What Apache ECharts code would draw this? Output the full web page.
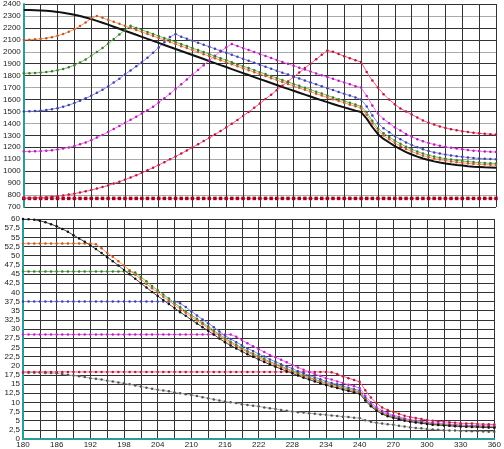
<!DOCTYPE html>
<html>
<head>
<meta charset="utf-8">
<script src="https://cdn.jsdelivr.net/npm/echarts@6/dist/echarts.min.js"></script>
<style>
  html, body { margin: 0; padding: 0; background: #fff; }
  #chart { width: 504px; height: 449px; }
</style>
</head>
<body>
<div id="chart"></div>
<script>
// x categories: 1 deg steps up to 240, then 5 deg steps
var cats = [
  180, 181, 182, 183, 184, 185, 186, 187, 188, 189,
  190, 191, 192, 193, 194, 195, 196, 197, 198, 199,
  200, 201, 202, 203, 204, 205, 206, 207, 208, 209,
  210, 211, 212, 213, 214, 215, 216, 217, 218, 219,
  220, 221, 222, 223, 224, 225, 226, 227, 228, 229,
  230, 231, 232, 233, 234, 235, 236, 237, 238, 239,
  240,
  245, 250, 255, 260, 265, 270, 275, 280, 285, 290, 295, 300,
  305, 310, 315, 320, 325, 330, 335, 340, 345, 350, 355, 360
];

// upper panel
var topBlack = [
  2350, 2350, 2348, 2346, 2343, 2339, 2334, 2327, 2319, 2310,
  2299, 2287, 2274, 2259, 2243, 2227, 2210, 2193, 2176, 2159,
  2142, 2125, 2108, 2091, 2074, 2057, 2040, 2023, 2006, 1990,
  1973, 1956, 1939, 1922, 1905, 1888, 1872, 1855, 1838, 1821,
  1805, 1788, 1771, 1755, 1738, 1722, 1705, 1689, 1673, 1657,
  1641, 1625, 1609, 1593, 1578, 1563, 1548, 1534, 1520, 1507,
  1495,
  1440, 1370, 1310, 1270, 1240, 1210, 1185, 1160, 1140, 1122, 1106, 1093,
  1082, 1073, 1065, 1058, 1052, 1047, 1042, 1038, 1035, 1032, 1030, 1028
];
var topOrange = [
  2100, 2101, 2104, 2108, 2114, 2122, 2134, 2149, 2167, 2189,
  2215, 2245, 2280, 2300, 2284, 2268, 2251, 2234, 2217, 2200,
  2183, 2166, 2149, 2132, 2115, 2098, 2081, 2064, 2047, 2031,
  2014, 1997, 1980, 1963, 1946, 1929, 1913, 1896, 1879, 1862,
  1846, 1829, 1812, 1796, 1779, 1763, 1746, 1730, 1714, 1698,
  1681, 1665, 1649, 1633, 1617, 1602, 1587, 1572, 1557, 1543,
  1528,
  1472, 1400, 1339, 1298, 1267, 1237, 1211, 1186, 1165, 1147, 1130, 1117,
  1106, 1097, 1089, 1082, 1075, 1070, 1065, 1061, 1058, 1055, 1053, 1051
];
var topGreen = [
  1820, 1821, 1823, 1826, 1830, 1836, 1845, 1856, 1870, 1888,
  1910, 1936, 1966, 1998, 2032, 2068, 2106, 2145, 2183, 2217,
  2200, 2183, 2166, 2149, 2132, 2115, 2098, 2081, 2064, 2048,
  2031, 2014, 1997, 1980, 1963, 1946, 1930, 1913, 1896, 1879,
  1863, 1846, 1829, 1813, 1796, 1780, 1763, 1747, 1731, 1715,
  1698, 1682, 1666, 1650, 1634, 1618, 1603, 1588, 1573, 1558,
  1543,
  1495, 1422, 1360, 1318, 1287, 1256, 1230, 1204, 1183, 1164, 1148, 1134,
  1122, 1113, 1104, 1097, 1091, 1085, 1080, 1076, 1072, 1069, 1067, 1065
];
var topBlue = [
  1500, 1501, 1503, 1507, 1512, 1519, 1528, 1540, 1554, 1570,
  1590, 1610, 1632, 1656, 1682, 1710, 1742, 1775, 1810, 1844,
  1878, 1912, 1950, 1992, 2036, 2080, 2124, 2148, 2126, 2110,
  2093, 2076, 2059, 2042, 2025, 2008, 1992, 1975, 1958, 1941,
  1925, 1908, 1891, 1875, 1858, 1842, 1825, 1809, 1792, 1776,
  1759, 1743, 1727, 1711, 1695, 1679, 1663, 1648, 1633, 1618,
  1600,
  1542, 1467, 1402, 1359, 1327, 1295, 1268, 1241, 1220, 1200, 1183, 1169,
  1157, 1148, 1139, 1132, 1125, 1120, 1115, 1110, 1107, 1104, 1102, 1100
];
var topMagenta = [
  1165, 1165, 1166, 1168, 1171, 1175, 1181, 1189, 1199, 1211,
  1225, 1241, 1260, 1281, 1304, 1329, 1354, 1379, 1404, 1430,
  1456, 1482, 1510, 1540, 1575, 1610, 1648, 1688, 1728, 1768,
  1808, 1848, 1888, 1928, 1966, 2002, 2036, 2066, 2048, 2031,
  2015, 1998, 1981, 1965, 1948, 1932, 1915, 1899, 1883, 1867,
  1851, 1835, 1819, 1803, 1788, 1773, 1758, 1743, 1729, 1712,
  1700,
  1630, 1550, 1482, 1436, 1402, 1368, 1340, 1311, 1289, 1268, 1250, 1236,
  1223, 1213, 1204, 1196, 1189, 1183, 1177, 1172, 1168, 1165, 1162, 1160
];
var topRed = [
  775, 776, 777, 779, 782, 786, 791, 797, 804, 812,
  821, 831, 842, 854, 867, 881, 896, 912, 929, 947,
  966, 986, 1007, 1029, 1052, 1075, 1099, 1123, 1148, 1173,
  1199, 1225, 1252, 1279, 1307, 1336, 1366, 1397, 1429, 1462,
  1496, 1531, 1567, 1604, 1641, 1678, 1715, 1752, 1789, 1826,
  1863, 1900, 1937, 1974, 2010, 2000, 1981, 1963, 1946, 1929,
  1914,
  1830, 1760, 1700, 1645, 1600, 1560, 1525, 1500, 1475, 1450, 1425, 1405,
  1390, 1375, 1362, 1352, 1343, 1335, 1328, 1322, 1317, 1313, 1310, 1308
];
var topFlat = [
  772, 772, 772, 772, 772, 772, 772, 772, 772, 772,
  772, 772, 772, 772, 772, 772, 772, 772, 772, 772,
  772, 772, 772, 772, 772, 772, 772, 772, 772, 772,
  772, 772, 772, 772, 772, 772, 772, 772, 772, 772,
  772, 772, 772, 772, 772, 772, 772, 772, 772, 772,
  772, 772, 772, 772, 772, 772, 772, 772, 772, 772,
  772,
  772, 772, 772, 772, 772, 772, 772, 772, 772, 772, 772, 772,
  772, 772, 772, 772, 772, 772, 772, 772, 772, 772, 772, 772
];

// lower panel
var botBlack = [
  60.0, 59.95, 59.8, 59.5, 59.1, 58.6, 58.0, 57.3, 56.5, 55.6,
  54.7, 53.8, 52.8, 51.8, 50.7, 49.6, 48.5, 47.3, 46.1, 44.9,
  43.7, 42.5, 41.3, 40.1, 39.0, 37.9, 36.8, 35.7, 34.6, 33.6,
  32.5, 31.5, 30.5, 29.5, 28.5, 27.4, 26.4, 25.5, 24.7, 23.9,
  23.1, 22.4, 21.7, 21.0, 20.3, 19.7, 19.1, 18.5, 17.9, 17.3,
  16.7, 16.2, 15.7, 15.2, 14.7, 14.3, 13.9, 13.5, 13.1, 12.7,
  12.3,
  10.5, 8.9, 7.7, 6.8, 6.2, 5.8, 5.4, 5.0, 4.7, 4.5, 4.3, 4.1,
  3.9, 3.8, 3.7, 3.6, 3.5, 3.4, 3.35, 3.3, 3.25, 3.2, 3.15, 3.1
];
var botOrange = [
  53.3, 53.3, 53.3, 53.3, 53.3, 53.3, 53.3, 53.3, 53.3, 53.3,
  53.3, 53.3, 53.3, 53.1, 52.0, 50.8, 49.7, 48.5, 47.3, 46.0,
  44.8, 43.6, 42.3, 41.1, 40.0, 38.8, 37.7, 36.6, 35.5, 34.4,
  33.3, 32.3, 31.3, 30.2, 29.2, 28.1, 27.1, 26.1, 25.3, 24.5,
  23.7, 23.0, 22.2, 21.5, 20.8, 20.2, 19.6, 19.0, 18.3, 17.7,
  17.1, 16.6, 16.1, 15.6, 15.1, 14.7, 14.2, 13.8, 13.4, 13.0,
  12.6,
  10.8, 9.1, 7.9, 7.0, 6.4, 5.9, 5.5, 5.1, 4.8, 4.6, 4.4, 4.2,
  4.0, 3.9, 3.8, 3.7, 3.6, 3.5, 3.43, 3.38, 3.33, 3.28, 3.23, 3.18
];
var botGreen = [
  45.7, 45.7, 45.7, 45.7, 45.7, 45.7, 45.7, 45.7, 45.7, 45.7,
  45.7, 45.7, 45.7, 45.7, 45.7, 45.7, 45.7, 45.7, 45.7, 45.7,
  45.4, 44.2, 43.0, 41.7, 40.6, 39.4, 38.3, 37.1, 36.0, 34.9,
  33.8, 32.8, 31.7, 30.7, 29.6, 28.5, 27.5, 26.5, 25.7, 24.9,
  24.0, 23.3, 22.6, 21.8, 21.1, 20.5, 19.9, 19.2, 18.6, 18.0,
  17.4, 16.8, 16.3, 15.8, 15.3, 14.9, 14.5, 14.0, 13.6, 13.2,
  12.8,
  10.9, 9.2, 8.0, 7.1, 6.4, 6.0, 5.6, 5.2, 4.9, 4.7, 4.5, 4.25,
  4.05, 3.95, 3.85, 3.75, 3.6, 3.5, 3.45, 3.4, 3.35, 3.3, 3.25, 3.2
];
var botBlue = [
  37.5, 37.5, 37.5, 37.5, 37.5, 37.5, 37.5, 37.5, 37.5, 37.5,
  37.5, 37.5, 37.5, 37.5, 37.5, 37.5, 37.5, 37.5, 37.5, 37.5,
  37.5, 37.5, 37.5, 37.5, 37.5, 37.5, 37.5, 37.5, 37.0, 36.0,
  34.8, 33.7, 32.6, 31.6, 30.5, 29.3, 28.2, 27.3, 26.4, 25.6,
  24.7, 24.0, 23.2, 22.5, 21.7, 21.1, 20.4, 19.8, 19.2, 18.5,
  17.9, 17.3, 16.8, 16.3, 15.7, 15.3, 14.9, 14.4, 14.0, 13.6,
  13.2,
  11.2, 9.5, 8.2, 7.3, 6.6, 6.2, 5.8, 5.35, 5.0, 4.8, 4.6, 4.4,
  4.15, 4.05, 3.95, 3.85, 3.75, 3.65, 3.6, 3.55, 3.5, 3.45, 3.4, 3.35
];
var botMagenta = [
  28.5, 28.5, 28.5, 28.5, 28.5, 28.5, 28.5, 28.5, 28.5, 28.5,
  28.5, 28.5, 28.5, 28.5, 28.5, 28.5, 28.5, 28.5, 28.5, 28.5,
  28.5, 28.5, 28.5, 28.5, 28.5, 28.5, 28.5, 28.5, 28.5, 28.5,
  28.5, 28.5, 28.5, 28.5, 28.5, 28.5, 28.5, 28.5, 27.9, 27.0,
  26.1, 25.3, 24.5, 23.7, 22.9, 22.3, 21.6, 20.9, 20.2, 19.5,
  18.9, 18.3, 17.7, 17.2, 16.6, 16.2, 15.7, 15.3, 14.8, 14.4,
  13.9,
  11.8, 10.0, 8.7, 7.7, 7.0, 6.5, 6.1, 5.6, 5.3, 5.05, 4.85, 4.6,
  4.4, 4.3, 4.15, 4.05, 3.95, 3.85, 3.75, 3.7, 3.65, 3.6, 3.55, 3.5
];
var botRed = [
  18.3, 18.3, 18.3, 18.3, 18.3, 18.3, 18.3, 18.3, 18.3, 18.3,
  18.3, 18.3, 18.3, 18.3, 18.3, 18.3, 18.3, 18.3, 18.3, 18.3,
  18.3, 18.3, 18.3, 18.3, 18.3, 18.3, 18.3, 18.3, 18.3, 18.3,
  18.3, 18.3, 18.3, 18.3, 18.3, 18.3, 18.3, 18.3, 18.3, 18.3,
  18.3, 18.3, 18.3, 18.3, 18.3, 18.3, 18.3, 18.3, 18.3, 18.3,
  18.3, 18.3, 18.3, 18.3, 18.3, 18.2, 17.7, 17.1, 16.6, 16.1,
  15.6,
  13.3, 11.3, 9.8, 8.6, 7.9, 7.4, 6.9, 6.35, 6.0, 5.7, 5.45, 5.2,
  4.95, 4.8, 4.7, 4.55, 4.45, 4.3, 4.25, 4.2, 4.1, 4.05, 4.0, 3.95
];
var botGray = [
  18.1, 18.1, 18.1, 18.1, 18.0, 18.0, 17.9, 17.7, 17.5, 17.3,
  17.1, 16.9, 16.6, 16.4, 16.2, 15.9, 15.7, 15.4, 15.2, 14.9,
  14.6, 14.3, 14.0, 13.7, 13.4, 13.2, 13.0, 12.7, 12.5, 12.2,
  12.0, 11.7, 11.4, 11.1, 10.8, 10.5, 10.2, 10.0, 9.8, 9.5,
  9.3, 9.1, 8.9, 8.6, 8.4, 8.2, 7.9, 7.7, 7.5, 7.3,
  7.2, 7.0, 6.9, 6.7, 6.6, 6.4, 6.3, 6.1, 6.0, 5.8,
  5.7,
  5.1, 4.7, 4.4, 4.2, 4.0, 3.9, 3.6, 3.4, 3.2, 3.0, 2.9, 2.7,
  2.6, 2.5, 2.4, 2.35, 2.3, 2.2, 2.15, 2.1, 2.1, 2.05, 2.0, 2.0
];

var chart = echarts.init(document.getElementById("chart"));

// one marked line (dotted look: light line + darker points)
function mk(data, panel, lineColor, dotColor, dotSize, shape) {
  return {
    type: "line",
    xAxisIndex: panel,
    yAxisIndex: panel,
    data: data,
    showAllSymbol: true,
    symbol: shape || "circle",
    symbolSize: dotSize,
    lineStyle: { color: lineColor, width: 1 },
    itemStyle: { color: dotColor, borderWidth: 0 },
  };
}

var axisTeal = "#2a9c9c";
var gridDark = "#333";

function xAxisOf(panel, showLabels) {
  return {
    type: "category",
    gridIndex: panel,
    data: cats,
    boundaryGap: false,
    axisTick: { show: false },
    axisLine: { show: showLabels, lineStyle: { color: axisTeal, width: 2 } },
    axisLabel: {
      show: showLabels,
      interval: 5,
      fontSize: 8,
      color: "#222",
      margin: 2,
    },
    splitLine: {
      show: true,
      interval: 2,
      lineStyle: { color: gridDark, width: 1 },
    },
  };
}

var option = {
  animation: false,
  backgroundColor: "#fff",
  textStyle: { fontFamily: "Liberation Sans, Arial, sans-serif" },
  grid: [
    { left: 23, right: 8, top: 1, height: 206 },
    { left: 23, right: 8, top: 219, height: 220 },
  ],
  xAxis: [xAxisOf(0, false), xAxisOf(1, true)],
  yAxis: [
    {
      type: "value",
      gridIndex: 0,
      min: 700,
      max: 2400,
      interval: 100,
      axisLine: { show: true, lineStyle: { color: axisTeal, width: 2 } },
      axisTick: { show: false },
      axisLabel: {
        fontSize: 8,
        color: "#222",
        margin: 3,
        formatter: function (v) {
          return String(v);
        },
      },
      splitLine: {
        lineStyle: { color: [gridDark, "#aaa", gridDark], width: 1 },
      },
    },
    {
      type: "value",
      gridIndex: 1,
      min: 0,
      max: 60,
      interval: 2.5,
      axisLine: { show: true, lineStyle: { color: axisTeal, width: 2 } },
      axisTick: { show: false },
      axisLabel: {
        fontSize: 8,
        color: "#222",
        margin: 3,
        formatter: function (v) {
          return String(v).replace(".", ",");
        },
      },
      splitLine: { lineStyle: { color: gridDark, width: 1 } },
    },
  ],
  series: [
    mk(topFlat, 0, "#e8a0a8", "#a00020", 3.5, "rect"),
    mk(topRed, 0, "#f06080", "#b81840", 2.5),
    mk(topMagenta, 0, "#f070f0", "#b020b0", 2.5),
    mk(topBlue, 0, "#8888e8", "#4040a0", 2.5),
    mk(topGreen, 0, "#78b868", "#3c7a30", 2.5),
    mk(topOrange, 0, "#f09a60", "#c0582a", 2.5),
    {
      type: "line",
      xAxisIndex: 0,
      yAxisIndex: 0,
      data: topBlack,
      symbol: "none",
      lineStyle: { color: "#111", width: 2 },
    },

    mk(botGray, 1, "#b0b0b0", "#555", 2.5),
    mk(botRed, 1, "#f06080", "#c01840", 2.5),
    mk(botMagenta, 1, "#f070f0", "#c020c0", 2.5),
    mk(botBlue, 1, "#8888e8", "#4040a8", 2.5),
    mk(botGreen, 1, "#78b868", "#3c7a30", 2.5),
    mk(botOrange, 1, "#f09a60", "#c0582a", 2.5),
    mk(botBlack, 1, "#444", "#111", 2.5),
  ],
};

chart.setOption(option);
</script>
</body>
</html>
